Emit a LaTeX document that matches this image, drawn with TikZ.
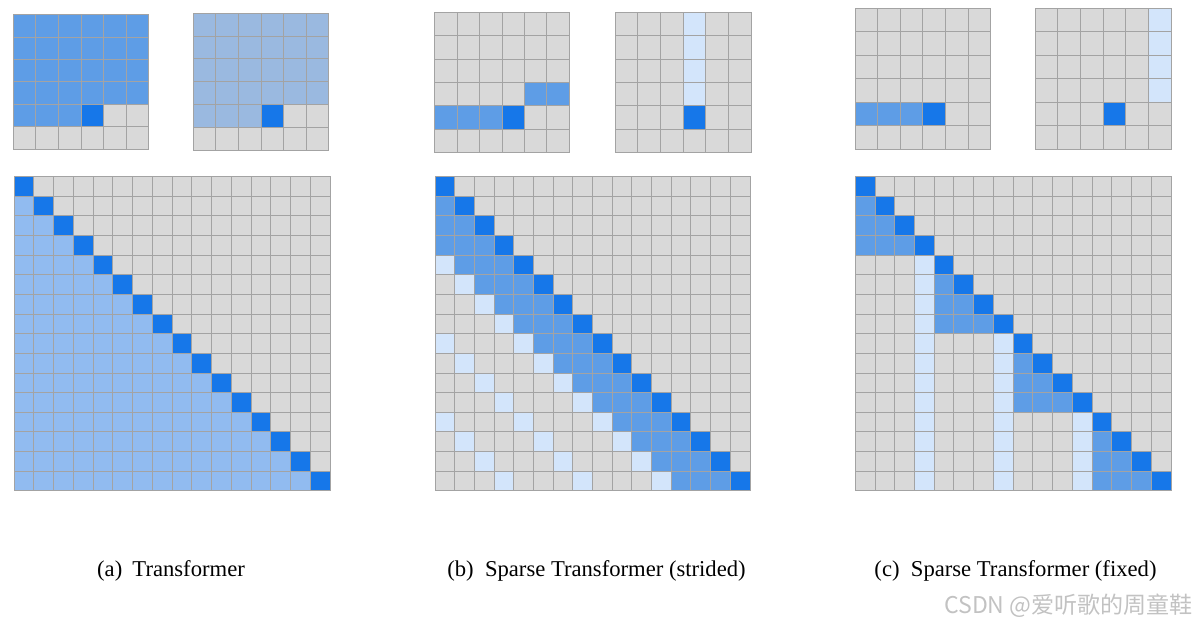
\documentclass[tikz,border=0pt]{standalone}
\usepackage{fontspec}
\setmainfont{Liberation Serif}
\newfontfamily\cjk{Noto Sans CJK SC}
\definecolor{mask0}{HTML}{D9D9D9}
\definecolor{mask1}{HTML}{D3E5FB}
\definecolor{mask2}{HTML}{5E9DE6}
\definecolor{mask3}{HTML}{1677E9}
\definecolor{mask4}{HTML}{91BBF0}
\definecolor{mask5}{HTML}{9AB9E0}
\definecolor{gridline}{HTML}{A3A3A3}
% #1,#2 corner, #3,#4 cell size, #5 cells per side, #6 colour index of cell (\i,\j)
\newcommand\maskgrid[6]{%
\begin{scope}[shift={(#1,#2)},xscale=#3,yscale=#4]
\pgfmathtruncatemacro\last{#5-1}
\foreach \i in {0,...,\last}
\foreach \j in {0,...,\last}{
\pgfmathtruncatemacro\c{#6}
\fill[mask\c] (\j,\i) rectangle ++(1,1);}
\foreach \k in {0,...,#5}{
\draw[cell] (\k,0) -- (\k,#5);
\draw[cell] (0,\k) -- (#5,\k);}
\end{scope}}
\begin{document}
\begin{tikzpicture}[x=0.025cm,y=-0.025cm,
cell/.style={draw=gridline, line width=0.7pt, line cap=rect},
caption/.style={anchor=base, font=\fontsize{16.1}{19}\selectfont},
watermark/.style={anchor=base east, text=black!24, font=\cjk\fontsize{16.4}{19}\selectfont}]
\useasboundingbox (0,0) rectangle (1202,625);
% (a) Transformer
\maskgrid{13.3}{14.7}{22.6}{22.4}{6}{(\i==4&&\j==3)?3:((\i<4||(\i==4&&\j<3))?2:0)}
\maskgrid{193.3}{13.3}{22.6}{22.8}{6}{(\i==4&&\j==3)?3:((\i<4||(\i==4&&\j<3))?5:0)}
\maskgrid{14}{176.7}{19.75}{19.63}{16}{(\i==\j)?3:((\j<\i)?4:0)}
% (b) strided
\maskgrid{434.7}{12.3}{22.45}{23.4}{6}{(\i==4&&\j==3)?3:(((\i==4&&\j<3)||(\i==3&&\j>3))?2:0)}
\maskgrid{615}{12.3}{22.67}{23.4}{6}{(\i==4&&\j==3)?3:((\j==3&&\i<4)?1:0)}
\maskgrid{435}{176.7}{19.69}{19.63}{16}{(\i==\j)?3:((\j>\i)?0:((\i-\j<4)?2:((mod(\i-\j,4)==0)?1:0)))}
% (c) fixed
\maskgrid{855}{8.3}{22.6}{23.45}{6}{(\i==4&&\j==3)?3:((\i==4&&\j<3)?2:0)}
\maskgrid{1035}{8.3}{22.67}{23.45}{6}{(\i==4&&\j==3)?3:((\j==5&&\i<4)?1:0)}
\maskgrid{855.3}{176.7}{19.73}{19.63}{16}{(\i==\j)?3:((\j>\i)?0:((\j>=4*floor(\i/4))?2:((mod(\j,4)==3)?1:0)))}
% captions
\node[caption] (capa) at (171,576.7) {(a)\hspace{0.45em}Transformer};
\node[caption] (capb) at (596.5,576.7) {(b)\enspace Sparse Transformer (strided)};
\node[caption] (capc) at (1015.5,576.7) {(c)\enspace Sparse Transformer (fixed)};
\node[watermark] (wmark) at (1198,613.5) {CSDN @爱听歌的周童鞋};
\end{tikzpicture}
\end{document}
